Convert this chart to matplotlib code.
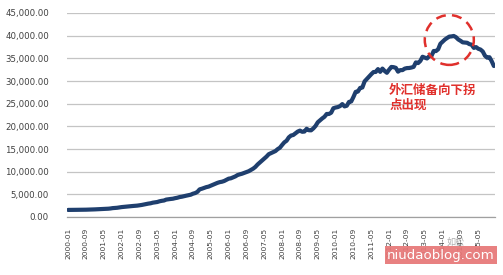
import matplotlib
matplotlib.use("Agg")
import matplotlib.pyplot as plt
from matplotlib.patches import Ellipse, Rectangle

years = list(range(2000, 2016))
months = [f"{y}-{m:02d}" for y in years for m in range(1, 13)]

reserves = [
    # 2000
    1562, 1572, 1577, 1580, 1585, 1586, 1592, 1600, 1613, 1626, 1640, 1656,
    # 2001
    1681, 1704, 1742, 1756, 1765, 1800, 1830, 1880, 1959, 1987, 2036, 2122,
    # 2002
    2186, 2239, 2280, 2359, 2404, 2427, 2466, 2509, 2583, 2656, 2763, 2864,
    # 2003
    2953, 3026, 3160, 3242, 3308, 3465, 3566, 3637, 3839, 3917, 3979, 4033,
    # 2004
    4154, 4248, 4397, 4474, 4600, 4705, 4812, 4916, 5140, 5279, 5546, 6099,
    # 2005
    6236, 6426, 6591, 6702, 6910, 7110, 7327, 7533, 7690, 7780, 7941, 8189,
    # 2006
    8451, 8536, 8751, 8950, 9250, 9411, 9545, 9720, 9880, 10096, 10385, 10663,
    # 2007
    11046, 11582, 12020, 12466, 12926, 13326, 13852, 14086, 14336, 14545, 14968, 15282,
    # 2008
    15898, 16471, 16822, 17566, 17969, 18088, 18452, 18841, 19056, 18797, 18847, 19460,
    # 2009
    19135, 19121, 19537, 20089, 20895, 21316, 21746, 22108, 22726, 22728, 23000, 23992,
    # 2010
    24153, 24247, 24471, 24905, 24395, 24543, 25380, 25483, 26483, 27609, 27680, 28473,
    # 2011
    28564, 29914, 30447, 31000, 31500, 31975, 32000, 32625, 32017, 32738, 32209, 31811,
    # 2012
    32500, 33100, 33050, 32900, 32060, 32400, 32400, 32730, 32850, 32870, 32970, 33116,
    # 2013
    34100, 33950, 34426, 35345, 35148, 34967, 35478, 35530, 36627, 36600, 37000, 38213,
    # 2014
    38666, 39137, 39481, 39788, 39840, 39932, 39660, 39170, 38877, 38530, 38470, 38430,
    # 2015
    38134, 38016, 37300, 37481, 37112, 36938, 36513, 35574, 35141, 35255, 34383, 33304,
]

y_ticks = [0, 5000, 10000, 15000, 20000, 25000, 30000, 35000, 40000, 45000]
annotation = "外汇储备向下拐\n点出现"
watermark = "niudaoblog.com"
credit = "如松"

plt.rcParams['font.family'] = ['DejaVu Sans']

fig = plt.figure(figsize=(5.03, 2.75), dpi=100)
fig.patch.set_facecolor("white")
ax = fig.add_axes([67/503, 1-217/275, (495-67)/503, (217-13)/275])

x = list(range(len(months)))
ax.plot(x, reserves, color="#1f3f6e", lw=3.0, solid_capstyle="round",
        solid_joinstyle="round", zorder=3)

ax.set_xlim(-0.5, len(months) - 0.5)
ax.set_ylim(0, 45000)
ax.set_yticks(y_ticks)
ax.set_yticklabels([f"{v:,.2f}" for v in y_ticks], fontsize=6.2, color="#404040")
ax.yaxis.grid(True, color="#c4c4c4", lw=0.9)
ax.set_axisbelow(True)

xt = x[::8]
ax.set_xticks(xt)
ax.set_xticklabels([months[i] for i in xt], rotation=90, fontsize=5.4, color="#404040")
ax.tick_params(axis="x", length=0, pad=8)
ax.tick_params(axis="y", length=0, pad=13)

for s in ["top", "right", "left"]:
    ax.spines[s].set_visible(False)
ax.spines["bottom"].set_color("#a0a0a0")
ax.spines["bottom"].set_linewidth(0.9)

# dashed circle around the peak
ell = Ellipse((171.0, 39050), width=22, height=11000, fill=False,
              edgecolor="#e0302c", lw=1.8, linestyle=(0, (4, 2.5)), zorder=4)
ax.add_patch(ell)

ax.text(144, 29300, annotation, color="#e0302c", fontsize=9.0, fontweight="bold",
        family=["Noto Sans CJK SC", "DejaVu Sans"], ha="left", va="top",
        linespacing=1.15, zorder=5)

# watermark box
fig.patches.append(Rectangle((385/503, 1-264/275), (497-385)/503, 18/275,
                             transform=fig.transFigure,
                             facecolor="#e77676", edgecolor="none", alpha=0.92))
fig.text(441/503, 1-255.5/275, watermark, color="white", fontsize=9.6,
         ha="center", va="center", family=["DejaVu Sans"])
fig.text(456/503, 1-242/275, credit, color="#9a9a9a", fontsize=6.5, alpha=0.8,
         ha="center", va="center", family=["Noto Sans CJK SC", "DejaVu Sans"])

fig.savefig("out.png", dpi=100)
